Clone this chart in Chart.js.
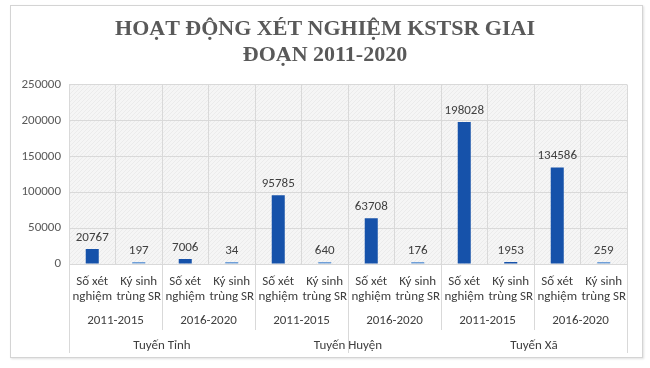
<!DOCTYPE html>
<html>
<head>
<meta charset="utf-8">
<script src="https://cdn.jsdelivr.net/npm/chart.js@4"></script>
<style>
  body { margin: 0; background: #fff; }
  #wrap { position: relative; width: 650px; height: 368px; }
  #frame { position: absolute; left: 10px; top: 5px; width: 631px; height: 351px; border: 1px solid #d4d4d4; box-shadow: 1px 1px 2px #e0e0e0; }
  canvas { position: absolute; left: 0; top: 0; }
</style>
</head>
<body>
<div id="wrap">
  <div id="frame"></div>
  <canvas id="chart" width="650" height="368"></canvas>
</div>
<script>
// dữ liệu
const regions = ['Tuyến Tỉnh', 'Tuyến Huyện', 'Tuyến Xã'];
const periods = ['2011-2015', '2016-2020'];
const measures = [['Số xét', 'nghiệm'], ['Ký sinh', 'trùng SR']];
const values = [20767, 197, 7006, 34, 95785, 640, 63708, 176, 198028, 1953, 134586, 259];
const yTicks = [0, 50000, 100000, 150000, 200000, 250000];

const titleText = ['HOẠT ĐỘNG XÉT NGHIỆM KSTSR GIAI', 'ĐOẠN 2011-2020'];

// nhãn nhiều cấp
const labels = [];
const periodLabels = [];
regions.forEach(r => {
    periods.forEach(p => {
        periodLabels.push(p);
        measures.forEach(m => labels.push(m));
    });
});

const FONT = 'Carlito, "Liberation Sans", Arial, sans-serif';
const GRID = '#d9d9d9';
const DARK = '#1652aa';
const LIGHT = '#6f9fd8';

// nền kẻ sọc của vùng vẽ
function makePattern() {
    const c = document.createElement('canvas');
    c.width = 4; c.height = 4;
    const g = c.getContext('2d');
    g.fillStyle = '#f5f5f5';
    g.fillRect(0, 0, 4, 4);
    g.strokeStyle = '#ebebeb';
    g.lineWidth = 1;
    g.beginPath();
    g.moveTo(0, 4); g.lineTo(4, 0);
    g.stroke();
    return g.createPattern(c, 'repeat');
}

const plotBg = {
    id: 'plotBg',
    beforeDraw(chart) {
        const { ctx, chartArea: a } = chart;
        ctx.save();
        ctx.fillStyle = makePattern();
        ctx.fillRect(a.left, a.top, a.right - a.left, a.bottom - a.top);
        ctx.restore();
    }
};

// đường phân cách nhóm dưới trục x
const dividers = {
    id: 'dividers',
    afterDraw(chart) {
        const { ctx } = chart;
        const xs = chart.scales.x;
        const half = (xs.getPixelForValue(1) - xs.getPixelForValue(0)) / 2;
        const top = chart.chartArea.bottom;
        ctx.save();
        ctx.strokeStyle = GRID;
        ctx.lineWidth = 1;
        for (let i = 0; i <= labels.length; i++) {
            let bottom;
            if (i % 6 === 0) bottom = 353;
            else if (i % 2 === 0) bottom = 330;
            else continue;
            const x = i < labels.length ? xs.getPixelForValue(i) - half : xs.getPixelForValue(i - 1) + half;
            const px = Math.round(x) + 0.5;
            ctx.beginPath();
            ctx.moveTo(px, top);
            ctx.lineTo(px, bottom);
            ctx.stroke();
        }
        ctx.restore();
    }
};

// nhãn giá trị trên cột
const valueLabels = {
    id: 'valueLabels',
    afterDatasetsDraw(chart) {
        const { ctx } = chart;
        const meta = chart.getDatasetMeta(0);
        ctx.save();
        ctx.font = '13px ' + FONT;
        ctx.fillStyle = '#404040';
        ctx.textAlign = 'center';
        ctx.textBaseline = 'bottom';
        meta.data.forEach((bar, i) => {
            ctx.fillText(String(values[i]), bar.x, bar.y - 5);
        });
        ctx.restore();
    }
};

const ctx = document.getElementById('chart').getContext('2d');
const chart = new Chart(ctx, {
    type: 'bar',
    data: {
        labels: labels,
        datasets: [{
            data: values,
            backgroundColor: c => (c.raw < 1500 ? LIGHT : DARK),
            barPercentage: 0.28,
            categoryPercentage: 1,
            minBarLength: 2
        }]
    },
    options: {
        responsive: false,
        animation: false,
        layout: { padding: { left: 0, right: 0, top: 0, bottom: 12 } },
        plugins: {
            legend: { display: false },
            tooltip: { enabled: false },
            title: {
                display: true,
                text: titleText,
                color: '#595959',
                font: { family: '"Liberation Serif", "Times New Roman", serif', size: 22, weight: 'bold', lineHeight: 1.15 },
                padding: { top: 17, bottom: 17 }
            }
        },
        scales: {
            y: {
                min: 0,
                max: 250000,
                afterBuildTicks: s => { s.ticks = yTicks.map(v => ({ value: v })); },
                afterFit: s => { s.width = 69; },
                grid: { color: GRID, drawTicks: false },
                border: { display: false },
                ticks: {
                    color: '#595959',
                    padding: 8,
                    font: { family: FONT, size: 13 },
                    callback: v => String(v)
                }
            },
            // trục trống bên phải để giữ lề
            yr: {
                position: 'right',
                min: 0,
                max: 1,
                afterFit: s => { s.width = 23; },
                grid: { display: false, drawTicks: false },
                border: { display: false },
                ticks: { display: false }
            },
            x: {
                weight: 0,
                afterFit: s => { s.height = 44; },
                grid: { color: GRID, drawTicks: false, offset: true },
                border: { color: GRID },
                ticks: {
                    color: '#404040',
                    padding: 11,
                    maxRotation: 0,
                    autoSkip: false,
                    font: { family: FONT, size: 13, lineHeight: 1.1 }
                }
            },
            x2: {
                type: 'category',
                position: 'bottom',
                weight: 1,
                labels: periodLabels,
                offset: true,
                afterFit: s => { s.height = 26; },
                grid: { display: false, drawTicks: false },
                border: { display: false },
                ticks: {
                    color: '#404040',
                    padding: 5,
                    maxRotation: 0,
                    autoSkip: false,
                    font: { family: FONT, size: 13 }
                }
            },
            x3: {
                type: 'category',
                position: 'bottom',
                weight: 2,
                labels: regions,
                offset: true,
                afterFit: s => { s.height = 22; },
                grid: { display: false, drawTicks: false },
                border: { display: false },
                ticks: {
                    color: '#404040',
                    padding: 4,
                    maxRotation: 0,
                    autoSkip: false,
                    font: { family: FONT, size: 13 }
                }
            }
        }
    },
    plugins: [plotBg, dividers, valueLabels]
});
</script>
</body>
</html>
